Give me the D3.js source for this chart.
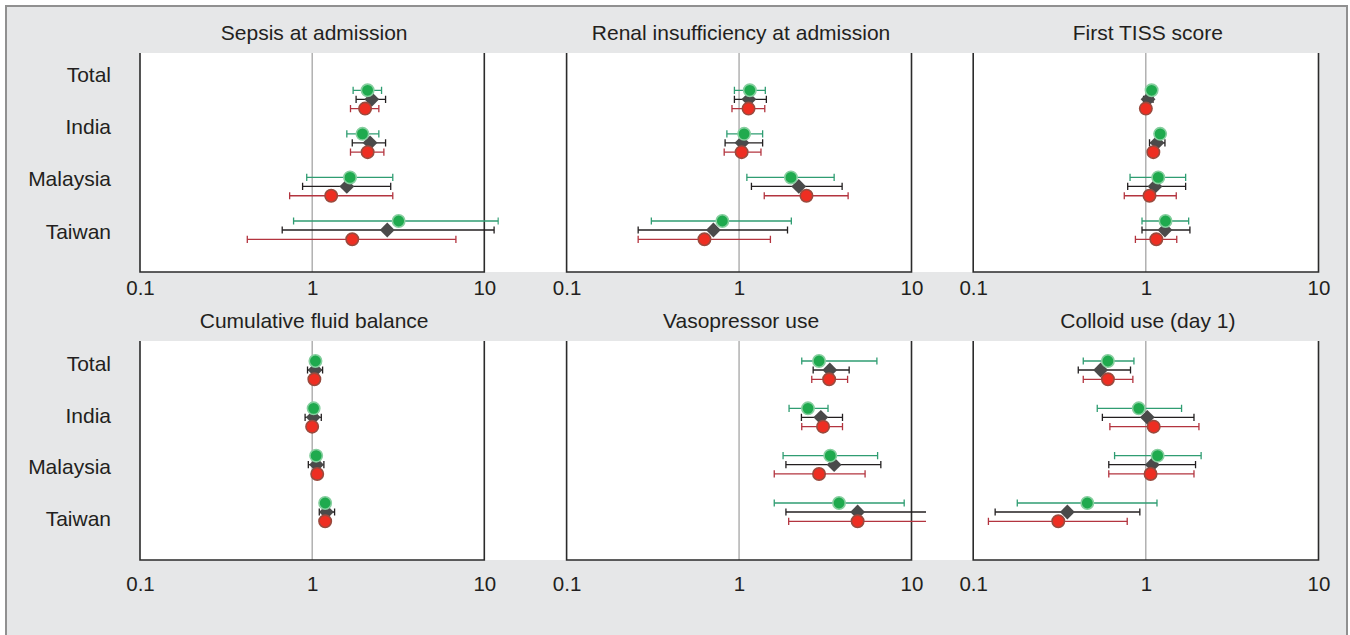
<!DOCTYPE html>
<html><head><meta charset="utf-8">
<script src="https://cdn.jsdelivr.net/npm/d3@7"></script>
<style>
body{margin:0;background:#fff}
svg{display:block}
text{font-family:Arial,"Liberation Sans",sans-serif;fill:#231f20}
</style>
</head><body>
<svg id="chart" width="1350" height="635"></svg>
<script>
// ---------- DATA ----------
const categories = ["Total", "India", "Malaysia", "Taiwan"];
const panelTitles = ["Sepsis at admission", "Renal insufficiency at admission", "First TISS score",
                     "Cumulative fluid balance", "Vasopressor use", "Colloid use (day 1)"];
const tickValues = [0.1, 1, 10];
const tickLabels = ["0.1", "1", "10"];

// each row: [estimate, lower, upper] for Total, India, Malaysia, Taiwan
const sepsisGreen   = [[2.10,1.73,2.53],[1.96,1.59,2.44],[1.66,0.93,2.94],[3.18,0.78,12.05]];
const sepsisOverall = [[2.22,1.80,2.67],[2.17,1.71,2.67],[1.59,0.88,2.86],[2.73,0.67,11.4]];
const sepsisRed     = [[2.03,1.67,2.44],[2.10,1.67,2.61],[1.29,0.74,2.94],[1.71,0.42,6.84]];

const renalGreen   = [[1.155,0.94,1.42],[1.07,0.85,1.37],[2.00,1.11,3.56],[0.80,0.31,2.01]];
const renalOverall = [[1.14,0.94,1.44],[1.04,0.83,1.37],[2.22,1.18,3.96],[0.71,0.26,1.91]];
const renalRed     = [[1.135,0.91,1.41],[1.035,0.82,1.34],[2.46,1.40,4.29],[0.63,0.26,1.52]];

const tissGreen   = [[1.08,1.04,1.12],[1.21,1.16,1.27],[1.18,0.81,1.70],[1.30,0.95,1.77]];
const tissOverall = [[1.03,0.97,1.10],[1.16,1.05,1.29],[1.13,0.785,1.70],[1.29,0.95,1.80]];
const tissRed     = [[1.00,0.96,1.05],[1.105,1.05,1.17],[1.05,0.75,1.50],[1.15,0.87,1.51]];

const fluidGreen   = [[1.045,1.01,1.08],[1.02,0.99,1.05],[1.055,1.02,1.09],[1.19,1.15,1.23]];
const fluidOverall = [[1.04,0.94,1.15],[1.015,0.91,1.13],[1.06,0.95,1.17],[1.21,1.10,1.35]];
const fluidRed     = [[1.03,1.00,1.06],[1.00,0.97,1.03],[1.07,1.04,1.10],[1.19,1.15,1.23]];

const vasoGreen   = [[2.91,2.31,6.30],[2.51,1.95,3.28],[3.38,1.80,6.36],[3.80,1.60,9.07]];
const vasoOverall = [[3.36,2.69,4.35],[2.98,2.30,3.98],[3.56,1.87,6.64],[4.87,1.87,14.0]];
const vasoRed     = [[3.33,2.64,4.26],[3.07,2.31,3.98],[2.91,1.60,5.38],[4.87,1.94,14.0]];

const colloidGreen   = [[0.603,0.434,0.853],[0.91,0.523,1.61],[1.17,0.659,2.09],[0.458,0.18,1.16]];
const colloidOverall = [[0.547,0.406,0.815],[1.02,0.56,1.90],[1.09,0.61,1.94],[0.351,0.134,0.923]];
const colloidRed     = [[0.603,0.434,0.841],[1.11,0.619,2.03],[1.065,0.61,1.90],[0.311,0.1225,0.78]];

const panelData = [
  [sepsisGreen, sepsisOverall, sepsisRed],
  [renalGreen, renalOverall, renalRed],
  [tissGreen, tissOverall, tissRed],
  [fluidGreen, fluidOverall, fluidRed],
  [vasoGreen, vasoOverall, vasoRed],
  [colloidGreen, colloidOverall, colloidRed]
];

// ---------- LAYOUT ----------
const W = 1350, H = 635;
const cols = [[140, 484.3], [566.6, 911.5], [973.2, 1318.5]];
const rows = [
  {titleY: 32, top: 53, bottom: 272, tickY: 288, labels: [74.7, 231], data: [99.3, 230]},
  {titleY: 320, top: 341, bottom: 560, tickY: 584, labels: [363.3, 518.3], data: [370, 512]}
];
const seriesOffset = [-9, 0, 9.3];
const barColors = ["#2f9d72", "#231f20", "#b3343f"];

const svg = d3.select("#chart");

// background + outer frame
svg.append("rect").attr("x", 0).attr("y", 0).attr("width", W).attr("height", H).attr("fill", "#fff");
svg.append("rect").attr("x", 6).attr("y", 6).attr("width", 1341).attr("height", 640)
  .attr("fill", "#e6e7e8").attr("stroke", "#909090").attr("stroke-width", 2);

// white plotting bands
rows.forEach(r => {
  svg.append("rect").attr("x", cols[0][0]).attr("y", r.top)
    .attr("width", cols[2][1] - cols[0][0]).attr("height", r.bottom - r.top).attr("fill", "#fff");
});

const defs = svg.append("defs");

panelData.forEach((series, pi) => {
  const r = rows[Math.floor(pi / 3)];
  const c = cols[pi % 3];
  const x = d3.scaleLog().domain([0.1, 10]).range(c);
  const yLab = d3.scalePoint().domain(categories).range(r.labels);
  const yDat = d3.scalePoint().domain(categories).range(r.data);

  const g = svg.append("g");

  // title
  g.append("text").attr("x", (c[0] + c[1]) / 2 + 2).attr("y", r.titleY).attr("dy", "0.36em")
    .attr("text-anchor", "middle").attr("font-size", 21).text(panelTitles[pi]);

  // category labels (first column only)
  if (pi % 3 === 0) {
    categories.forEach(cat => {
      g.append("text").attr("x", 111).attr("y", yLab(cat)).attr("dy", "0.36em")
        .attr("text-anchor", "end").attr("font-size", 21).text(cat);
    });
  }

  // reference line at 1
  g.append("line").attr("x1", x(1)).attr("x2", x(1)).attr("y1", r.top).attr("y2", r.bottom)
    .attr("stroke", "#8a8a8a").attr("stroke-width", 1);

  // x axis
  const axis = d3.axisBottom(x).tickValues(tickValues).tickSize(0).tickPadding(0)
    .tickFormat((d, i) => tickLabels[i]);
  const ax = g.append("g").attr("transform", `translate(0,${r.bottom})`).call(axis);
  ax.select(".domain").remove();
  ax.selectAll("text").attr("y", r.tickY - r.bottom).attr("dy", "0.36em")
    .attr("font-size", 20.5).attr("font-family", "Arial,'Liberation Sans',sans-serif").attr("fill", "#231f20");

  // frame: left, right, bottom
  g.append("path")
    .attr("d", `M${c[0]},${r.top}V${r.bottom}H${c[1]}V${r.top}`)
    .attr("fill", "none").attr("stroke", "#2b2b2b").attr("stroke-width", 1.6);

  // clip
  const cid = "clip" + pi;
  defs.append("clipPath").attr("id", cid).append("rect")
    .attr("x", c[0] - 2).attr("y", r.top).attr("width", c[1] - c[0] + 16.5).attr("height", r.bottom - r.top);
  const pg = g.append("g").attr("clip-path", `url(#${cid})`);

  // error bars
  series.forEach((arr, si) => {
    arr.forEach((d, ci) => {
      const yy = yDat(categories[ci]) + seriesOffset[si];
      const col = barColors[si];
      pg.append("line").attr("x1", x(d[1])).attr("x2", x(d[2])).attr("y1", yy).attr("y2", yy)
        .attr("stroke", col).attr("stroke-width", 1.3);
      [d[1], d[2]].forEach(v => {
        pg.append("line").attr("x1", x(v)).attr("x2", x(v)).attr("y1", yy - 3.6).attr("y2", yy + 3.6)
          .attr("stroke", col).attr("stroke-width", 1.3);
      });
    });
  });

  // diamonds
  series[1].forEach((d, ci) => {
    const yy = yDat(categories[ci]) + seriesOffset[1];
    pg.append("path").attr("d", d3.symbol(d3.symbolSquare, 110)())
      .attr("transform", `translate(${x(d[0])},${yy}) rotate(45)`)
      .attr("fill", "#4a4a4a");
  });

  // green circles
  series[0].forEach((d, ci) => {
    const yy = yDat(categories[ci]) + seriesOffset[0];
    pg.append("circle").attr("cx", x(d[0])).attr("cy", yy).attr("r", 6.2)
      .attr("fill", "#1faa4e").attr("stroke", "#86cf9f").attr("stroke-width", 1.6);
  });
  // red circles
  series[2].forEach((d, ci) => {
    const yy = yDat(categories[ci]) + seriesOffset[2];
    pg.append("circle").attr("cx", x(d[0])).attr("cy", yy).attr("r", 6.2)
      .attr("fill", "#ee2e22").attr("stroke", "#9a4a3e").attr("stroke-width", 1.6);
  });
});
</script>
</body></html>
